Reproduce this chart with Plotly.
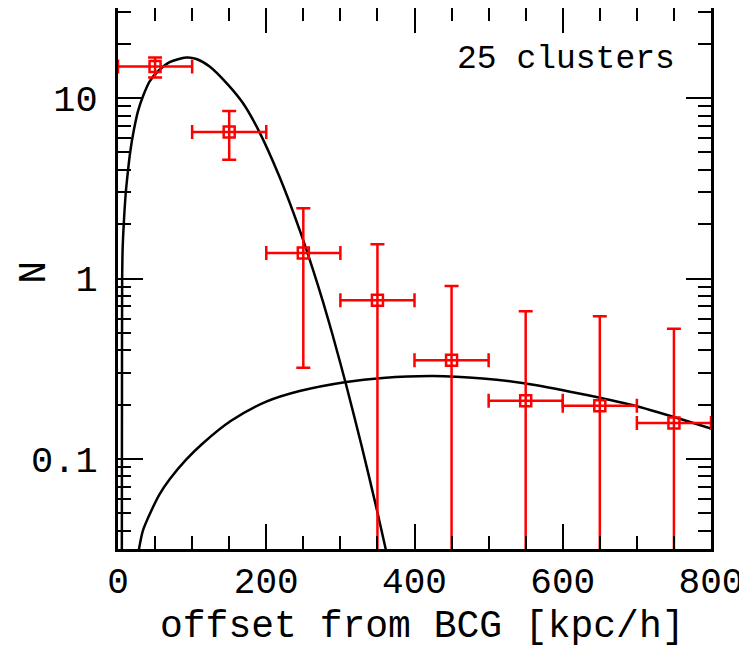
import plotly.graph_objects as go

# binned offsets of the satellite / BCG (kpc/h)
offset = [50, 150, 250, 350, 450, 550, 650, 750]
bin_half = [50, 50, 50, 50, 50, 50, 50, 50]
n_obs = [15.0, 6.5, 1.384, 0.757, 0.352, 0.210, 0.197, 0.158]
n_hi = [16.8, 8.48, 2.45, 1.55, 0.908, 0.659, 0.618, 0.527]
n_lo = [13.0, 4.55, 0.320, 0.01, 0.01, 0.01, 0.01, 0.01]  # 0.01 = below plotted range

# model curves
peak_x = [5.2, 5.4, 5.6, 6.2, 7.7, 10.4, 13.5, 16.7, 21.2, 27.0, 33.7, 42.7, 53.9,
          69.7, 92.2, 105.7, 123.6, 148.3, 168.5, 188.8, 218, 245, 263, 276.4,
          289.9, 308, 328.2, 348.4, 362]
peak_y = [0.03, 0.3, 0.97, 1.44, 1.98, 2.96, 3.97, 5.11, 6.59, 8.48, 10.25, 12.4, 14.1,
          15.85, 16.8, 16.5, 15.0, 11.9, 9.4, 6.73, 3.65, 1.86, 1.12, 0.746,
          0.48, 0.255, 0.12, 0.054, 0.0305]

broad_x = [28.3, 33.7, 45, 56.2, 69.7, 92.2, 114.6, 152, 200, 245, 308, 357, 425,
           492, 550, 622, 695, 762, 800]
broad_y = [0.0316, 0.0401, 0.0516, 0.0637, 0.077, 0.0992, 0.122, 0.162, 0.2075, 0.2377,
           0.267, 0.281, 0.288, 0.279, 0.262, 0.2305, 0.198, 0.1646, 0.147]

FONT = "Liberation Mono"

fig = go.Figure()

fig.add_trace(go.Scatter(x=peak_x, y=peak_y, mode="lines",
                         line=dict(color="black", width=2.5, shape="spline", smoothing=0.8)))
fig.add_trace(go.Scatter(x=broad_x, y=broad_y, mode="lines",
                         line=dict(color="black", width=2.5, shape="spline", smoothing=0.8)))

err_plus = [h - v for h, v in zip(n_hi, n_obs)]
err_minus = [v - l for v, l in zip(n_obs, n_lo)]

fig.add_trace(go.Scatter(
    x=offset, y=n_obs, mode="markers",
    marker=dict(symbol="square-open", size=11, color="red", line=dict(color="red", width=2.5)),
    error_x=dict(type="data", array=bin_half, color="red", thickness=2.5, width=7),
    error_y=dict(type="data", symmetric=False, array=err_plus, arrayminus=err_minus,
                 color="red", thickness=2.5, width=7),
))

fig.add_annotation(text="25 clusters", xref="paper", yref="paper", x=0.943, y=0.904,
                   xanchor="right", yanchor="middle", showarrow=False,
                   font=dict(family=FONT, size=33, color="black"))
# axis titles placed as annotations so they sit where the original puts them
fig.add_annotation(text="offset from BCG [kpc/h]", xref="paper", yref="paper", x=0.514, y=-0.144,
                   xanchor="center", yanchor="middle", showarrow=False,
                   font=dict(family=FONT, size=38, color="black"))
fig.add_annotation(text="N", xref="paper", yref="paper", x=-0.142, y=0.512, textangle=-90,
                   xanchor="center", yanchor="middle", showarrow=False,
                   font=dict(family=FONT, size=38, color="black"))

fig.update_xaxes(range=[0, 800], dtick=200, showline=True, linewidth=3, linecolor="black",
                 mirror="allticks", ticks="inside", ticklen=25, tickwidth=2, tickcolor="black",
                 minor=dict(dtick=50, ticks="inside", ticklen=13, tickwidth=2, tickcolor="black"),
                 showgrid=False, zeroline=False, ticklabelstandoff=-2, automargin=False,
                 tickfont=dict(family=FONT, size=36, color="black"))
fig.update_yaxes(type="log", range=[-1.5, 1.5], dtick=1, showline=True, linewidth=3, linecolor="black",
                 mirror="allticks", ticks="inside", ticklen=25, tickwidth=2, tickcolor="black",
                 minor=dict(dtick="D1", ticks="inside", ticklen=13, tickwidth=2, tickcolor="black"),
                 showgrid=False, zeroline=False, ticklabelstandoff=10, automargin=False,
                 tickfont=dict(family=FONT, size=37, color="black"))

# the page puts the figure 8px in from the top-left corner; size it so the page needs no scrollbars
fig.update_layout(width=739, height=645, showlegend=False,
                  margin=dict(l=110, r=36, t=0, b=104),
                  plot_bgcolor="white", paper_bgcolor="white")

fig.write_html("out.html")
